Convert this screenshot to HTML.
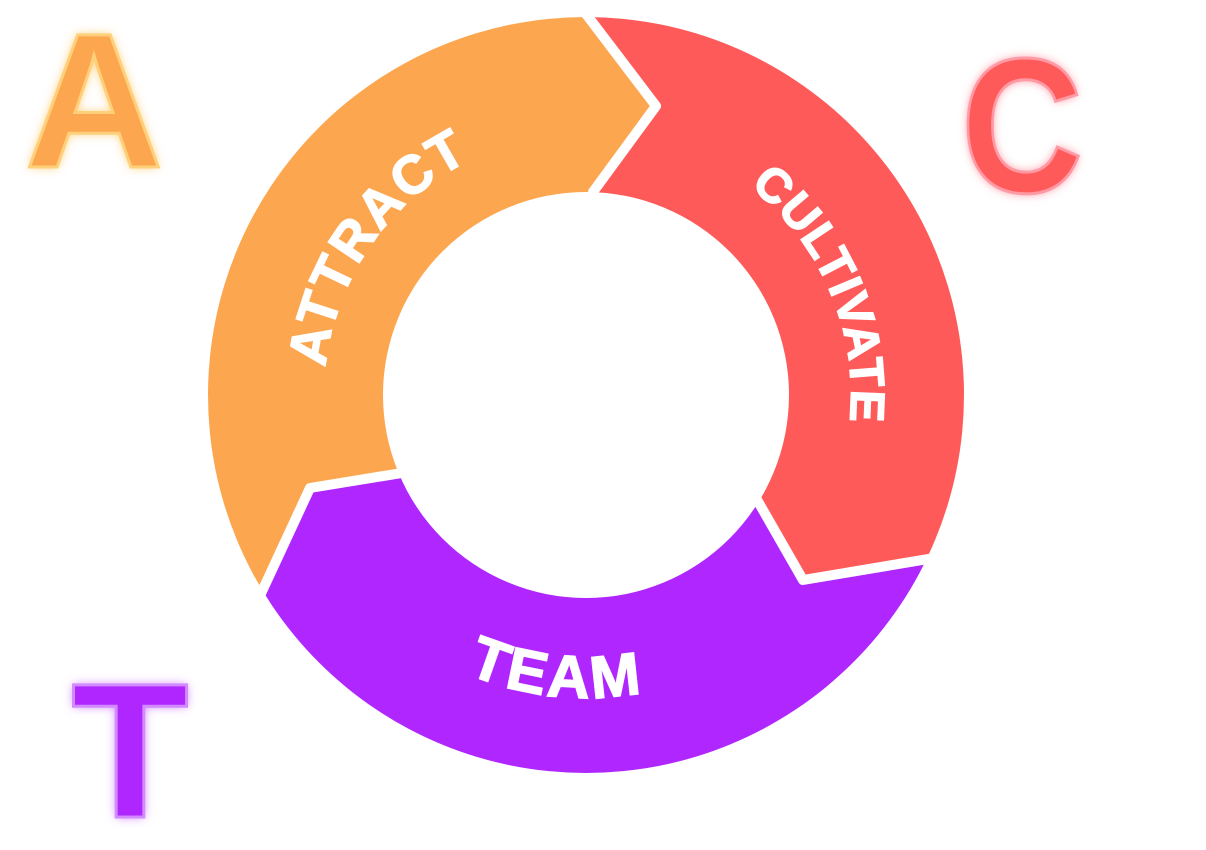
<!DOCTYPE html>
<html><head><meta charset="utf-8"><style>
html,body{margin:0;padding:0;background:#fff;width:1206px;height:850px;overflow:hidden}
svg{display:block;overflow:hidden}
</style></head><body>
<svg width="1206" height="850" viewBox="0 0 1206 850" style="position:absolute;left:0;top:0">
<defs>
<mask id="ring"><rect width="1206" height="850" fill="#000"/><circle cx="586" cy="395" r="378" fill="#fff"/><circle cx="586" cy="395" r="203" fill="#000"/></mask>
<filter id="g1" x="-30%" y="-30%" width="160%" height="160%"><feGaussianBlur stdDeviation="5"/></filter>
<path id="pA" d="M435.1,610.4 A263,263 0 0 1 736.9,179.6"/>
<path id="pC" d="M482.4,151 A265,265 0 0 1 689.6,639"/>
<path id="pT" d="M283.7,373.9 A303,303 0 0 0 886,437.2"/>
</defs>
<g mask="url(#ring)">
<polygon fill="#FDA650" points="545,-40 656,106 593,192 586,395 398,474 310,488 200,725 -100,725 -100,-100 545,-100"/>
<polygon fill="#FF5A5A" points="545,-40 656,106 593,192 586,395 760,500 803,580 1000,547 1300,547 1300,-100 545,-100"/>
<polygon fill="#AF26FF" points="586,395 760,500 803,580 1000,547 1300,547 1300,900 -100,900 -100,725 200,725 310,488 398,474"/>
<g fill="none" stroke="#fff" stroke-width="10" stroke-linejoin="round" stroke-linecap="round">
<polyline points="545,-40 656,106 593,192"/>
<polyline points="740,470 803,580 1000,547"/>
<polyline points="420,470 310,488 200,725"/>
</g>
</g>
<g font-family="Liberation Sans, sans-serif" font-weight="bold" fill="#fff" stroke="#fff" stroke-width="1.5">
<text font-size="54" letter-spacing="2"><textPath href="#pA" startOffset="50%" text-anchor="middle">ATTRACT</textPath></text>
<text font-size="48" letter-spacing="1"><textPath href="#pC" startOffset="50%" text-anchor="middle">CULTIVATE</textPath></text>
<text font-size="60" letter-spacing="3"><textPath href="#pT" startOffset="50%" text-anchor="middle">TEAM</textPath></text>
</g>
<g font-family="Liberation Sans, sans-serif" font-weight="bold" font-size="192">
<text x="94" y="167" text-anchor="middle" fill="#FFC96A" filter="url(#g1)">A</text>
<text x="94" y="167" text-anchor="middle" fill="#FDA650" stroke="#FFD07A" stroke-width="3">A</text>
<g transform="translate(1022,0) scale(0.88,1)">
<text x="0" y="192" text-anchor="middle" fill="#FF8C9A" filter="url(#g1)">C</text>
<text x="0" y="192" text-anchor="middle" fill="#FF5A5A" stroke="#FF9AA5" stroke-width="3">C</text>
</g>
<text x="130" y="817" text-anchor="middle" fill="#D07CFF" filter="url(#g1)">T</text>
<text x="130" y="817" text-anchor="middle" fill="#AF26FF" stroke="#D28AFF" stroke-width="3">T</text>
</g>
</svg>
</body></html>
